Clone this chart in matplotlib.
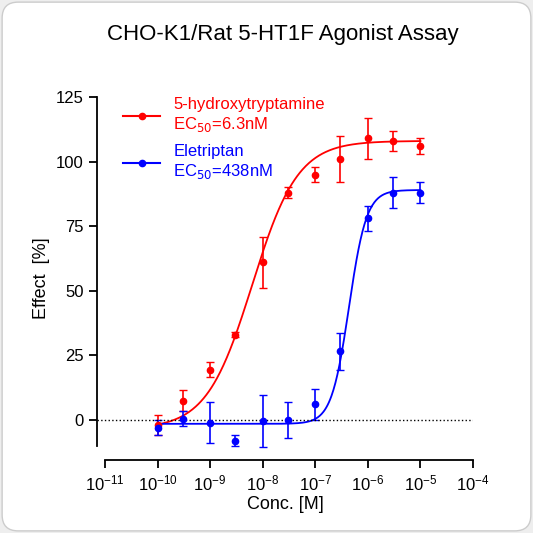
import numpy as np
import matplotlib
matplotlib.use("Agg")
import matplotlib.pyplot as plt
from matplotlib.patches import FancyBboxPatch

plt.rcParams['font.family'] = ['Liberation Sans', 'DejaVu Sans']

conc = [1e-10, 3e-10, 1e-9, 3e-9, 1e-8, 3e-8, 1e-7, 3e-7, 1e-6, 3e-6, 1e-5]
ht_mean = [-2, 7.5, 19.5, 33, 61, 88, 95, 101, 109, 108, 106]
ht_err = [4, 4, 3, 1, 10, 2, 3, 9, 8, 4, 3]
ele_mean = [-3, 0.5, -1, -8, -0.5, 0, 6, 26.5, 78, 88, 88]
ele_err = [3, 3, 8, 2, 10, 7, 6, 7, 5, 6, 4]
ht_fit = dict(bottom=-3.5, top=108, ec50=6.3e-9, hill=1.0)
ele_fit = dict(bottom=-1.5, top=89, ec50=438e-9, hill=2.6)

def curve(x, bottom, top, ec50, hill):
    return bottom + (top - bottom) / (1 + (ec50 / x) ** hill)

fig = plt.figure(figsize=(5.33, 5.33), dpi=100)
fig.patch.set_facecolor("#eeeeee")
card = FancyBboxPatch((0.004, 0.004), 0.992, 0.992, boxstyle="round,pad=0,rounding_size=0.03",
                      transform=fig.transFigure, facecolor="white", edgecolor="#cccccc", lw=1, zorder=-10)
fig.patches.append(card)
ax = fig.add_axes([97/533, 1-460/533, (473-97)/533, (460-97)/533])
ax.patch.set_alpha(0)
ax.set_xscale("log")
ax.set_xlim(10**-11.152, 1e-4)
ax.set_ylim(-15.5, 125)

xs = np.logspace(-10, -5, 400)
ax.plot(xs, curve(xs, **ht_fit), color="red", lw=1.3)
ax.plot(xs, curve(xs, **ele_fit), color="blue", lw=1.3)
ax.errorbar(conc, ht_mean, yerr=ht_err, fmt="o", color="red", ms=4.5, capsize=3, elinewidth=1.2)
ax.errorbar(conc, ele_mean, yerr=ele_err, fmt="o", color="blue", ms=4.5, capsize=3, elinewidth=1.2)
ax.axhline(0, color="black", ls=":", lw=1)

ax.plot([], [], "o-", color="red", ms=4.5, label="5-hydroxytryptamine\nEC$_{50}$=6.3nM")
ax.plot([], [], "o-", color="blue", ms=4.5, label="Eletriptan\nEC$_{50}$=438nM")
h, l = ax.get_legend_handles_labels()
leg = ax.legend(h[-2:], l[-2:], loc="upper left", bbox_to_anchor=(0.03, 1.04), frameon=False,
                fontsize=12, handlelength=2.2, labelspacing=0.6)
for t, c in zip(leg.get_texts(), ["red", "blue"]):
    t.set_color(c)

for s in ["top", "right"]:
    ax.spines[s].set_visible(False)
ax.spines["left"].set_bounds(-10, 125)
ax.spines["bottom"].set_bounds(1e-11, 1e-4)
for s in ["left", "bottom"]:
    ax.spines[s].set_linewidth(1.3)
ax.set_yticks([0, 25, 50, 75, 100, 125])
ax.set_xticks([10.0**k for k in range(-11, -3)])
ax.tick_params(labelsize=12, width=1.3, length=6)
ax.tick_params(which="minor", width=1, length=3)
ax.set_xlabel("Conc. [M]", fontsize=13, labelpad=2)
ax.set_ylabel("Effect  [%]", fontsize=13)
fig.text(0.53, 0.935, "CHO-K1/Rat 5-HT1F Agonist Assay", ha="center", va="center", fontsize=16)
fig.savefig("out.png", dpi=100, facecolor=fig.get_facecolor())
